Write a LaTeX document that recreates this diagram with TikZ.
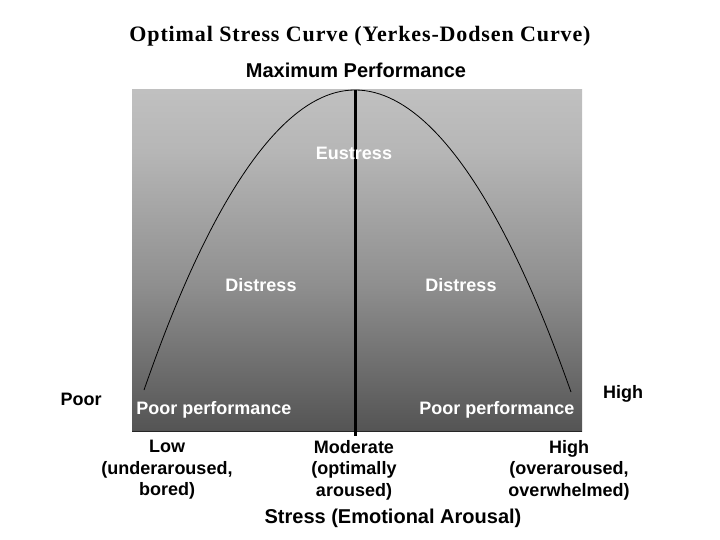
\documentclass[tikz,border=0pt]{standalone}
\usepackage{fontspec}
\setmainfont{Liberation Sans}
\newfontfamily\titlefont[LetterSpace=4]{Liberation Serif}
\usetikzlibrary{positioning}
\definecolor{plottop}{RGB}{192,192,192}
\definecolor{plotup}{RGB}{182,182,182}
\definecolor{plotmid}{RGB}{143,143,143}
\definecolor{plotbot}{RGB}{84,84,84}
\pgfdeclareverticalshading{stressbg}{100bp}{color(0bp)=(plotbot); color(25bp)=(plotbot);
  color(46.5bp)=(plotmid); color(66bp)=(plotup); color(75bp)=(plottop); color(100bp)=(plottop)}
\tikzset{
  lbl/.style={font=\bfseries\fontsize{18}{21.5}\selectfont, align=center, inner sep=0pt},
  inlbl/.style={lbl, text=white},
  biglbl/.style={font=\bfseries\fontsize{20}{24}\selectfont, inner sep=0pt},
}

\begin{document}
\begin{tikzpicture}[x=1pt,y=-1pt]
    \useasboundingbox (0,0) rectangle (720,540);
    % background of the plot
    \shade[shading=stressbg] (132,90) rectangle (582,431);
    \coordinate (BL) at (132,431);
    \coordinate (BR) at (582,431);
    \draw[line width=1pt, black!85] (BL) -- (BR);
    % curve and middle line
    \coordinate (L) at (144,390);
    \coordinate (M) at (355,90);
    \coordinate (R) at (571,392);
    \coordinate (Mb) at (355,436);
    \draw[line width=0.8pt] (L) parabola bend (M) (R);
    \draw[line width=3pt] (M) -- (Mb);
    % labels
    \node[font=\titlefont\bfseries\fontsize{22}{26}\selectfont, inner sep=0pt] (title) at (360,36) {Optimal Stress Curve (Yerkes-Dodsen Curve)};
    \node[biglbl] (max) at (356,70) {Maximum Performance};
    \node[inlbl] (eu) at (354,153) {Eustress};
    \node[inlbl] (dl) at (261,285) {Distress};
    \node[inlbl] (dr) at (461,285) {Distress};
    \node[inlbl] (pl) at (214,410) {Poor performance};
    \node[inlbl] (pr) at (497,410) {Poor performance};
    \node[lbl] (poor) at (81,399) {Poor};
    \node[lbl] (high) at (623,394) {High};
    \node[lbl, anchor=north] (low) at (167,440) {Low\\(underaroused,\\bored)};
    \node[lbl, anchor=north] (mod) at (354,440) {Moderate\\(optimally\\aroused)};
    \node[lbl, anchor=north] (hi) at (569,440) {High\\(overaroused,\\overwhelmed)};
    \node[biglbl] (xlab) at (393,518) {Stress (Emotional Arousal)};
\end{tikzpicture}
\end{document}
